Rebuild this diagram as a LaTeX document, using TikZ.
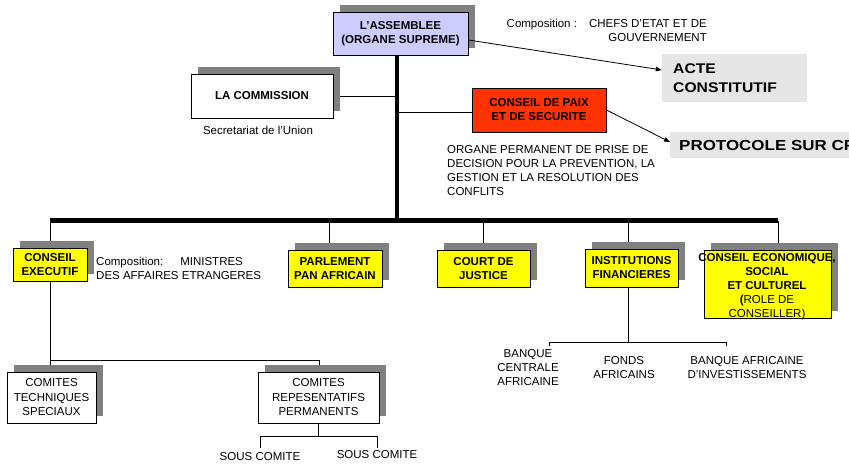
\documentclass[tikz,border=0pt]{standalone}
\usepackage{fontspec}
\setmainfont{Liberation Sans}
\newfontfamily\widefont[FakeStretch=1.12]{Liberation Sans}
\newfontfamily\widerfont[FakeStretch=1.17]{Liberation Sans}
\usetikzlibrary{shadows,arrows.meta}
\definecolor{lav}{HTML}{CCCCFF}
\definecolor{redor}{HTML}{FF3300}
\definecolor{yel}{HTML}{FFFF00}
\definecolor{shadowgray}{HTML}{808080}
\definecolor{lightg}{HTML}{E6E6E6}
\begin{document}
\begin{tikzpicture}[x=1pt,y=-1pt,
  every node/.style={font=\fontsize{11.5}{14}\selectfont, inner sep=0pt},
  box/.style={draw=black, line width=0.8pt, align=center, font=\fontsize{11.5}{14}\selectfont\bfseries},
  shad/.style={general shadow={fill=shadowgray, shadow xshift=7pt, shadow yshift=7pt}},
  ln/.style={line width=0.8pt},
  arr/.style={line width=0.8pt, -{Triangle[length=6pt,width=4.5pt]}},
  lbl/.style={align=center},
  big/.style={font=\widefont\fontsize{14}{19}\selectfont\bfseries, align=left}
]
\useasboundingbox (0,0) rectangle (849,465);
\clip (0,0) rectangle (849,465);

% trunk coordinates
\coordinate (top) at (397,55);
\coordinate (bar) at (397,221);
\coordinate (barL) at (50,221);
\coordinate (barR) at (778,221);

% ---------- connectors (drawn first, under boxes)
\draw[line width=3.8pt] (top) -- (bar);
\draw[line width=5pt] (barL) -- (barR);
\draw[ln] (333,96) -- (397,96);
\draw[ln] (397,112) -- (472,112);
\draw[ln] (50,221) -- (50,248);
\draw[ln] (329,221) -- (329,250);
\draw[ln] (483,221) -- (483,250);
\draw[ln] (628,221) -- (628,342);
\draw[ln] (778,221) -- (778,250);
% conseil executif children
\draw[ln] (50,281) -- (50,360) -- (319,360) -- (319,372);
\draw[ln] (50,360) -- (50,372);
\draw[ln] (318,423) -- (318,436);
\draw[ln] (260,448) -- (260,436) -- (377,436) -- (377,448);
% institutions children
\draw[ln] (549,346) -- (549,342) -- (726,342) -- (726,346);

% ---------- top boxes
\node[box, shad, fill=lav, minimum width=135pt, minimum height=43pt] (asm) at (400.5,33.5) {L’ASSEMBLEE\\(ORGANE SUPREME)};
\node[box, shad, fill=white, minimum width=142pt, minimum height=44pt] (com) at (262,96) {LA COMMISSION};
\node[box, fill=redor, minimum width=134pt, minimum height=44pt] (cps) at (539,110) {CONSEIL DE PAIX\\ET DE SECURITE};

\node[fill=lightg, minimum width=145pt, minimum height=48pt] (acte) at (734.5,78) {};
\node[big, anchor=west] (actet) at (673,78.5) {ACTE\\CONSTITUTIF};
\node[fill=lightg, minimum width=200pt, minimum height=26pt, anchor=west] (prot) at (670,145) {};
\node[font=\widerfont\fontsize{14.5}{19}\selectfont\bfseries, anchor=west] (prott) at (679,145.5) {PROTOCOLE SUR CPS};

\draw[arr] ([yshift=-6.5pt]asm.east) -- ([yshift=8pt]acte.west);
\draw[arr] (cps.east) -- ([yshift=3pt]prot.west);

\node[align=right, anchor=east] (compa) at (707,30.5) {Composition :\hspace{12pt}CHEFS D’ETAT ET DE\\GOUVERNEMENT};
\node (sec) at (258,130) {Secretariat de l’Union};
\node[align=left, anchor=west] (org) at (447,171) {ORGANE PERMANENT DE PRISE DE\\DECISION POUR LA PREVENTION, LA\\GESTION ET LA RESOLUTION DES\\CONFLITS};

% ---------- second row
\node[box, shad, fill=yel, minimum width=74pt, minimum height=33pt] (ce) at (50,264.5) {CONSEIL\\EXECUTIF};
\node[align=left, anchor=west] (compb) at (96,268) {Composition:\hspace{17pt}MINISTRES\\DES AFFAIRES ETRANGERES};
\node[box, shad, fill=yel, minimum width=94pt, minimum height=37pt] (pa) at (335,268.5) {PARLEMENT\\PAN AFRICAIN};
\node[box, shad, fill=yel, minimum width=93pt, minimum height=37pt] (cj) at (483.5,268.5) {COURT DE\\JUSTICE};
\node[box, shad, fill=yel, minimum width=93pt, minimum height=38pt] (inf) at (631.5,268) {INSTITUTIONS\\FINANCIERES};
\node[box, shad, fill=yel, minimum width=127pt, minimum height=68pt] (ces) at (767.5,284) {};
\node[align=center] (cest) at (767,287) {\bfseries CONSEIL ECONOMIQUE,\\\bfseries SOCIAL\\\bfseries ET CULTUREL\\{\bfseries (}ROLE DE\\CONSEILLER)};

% ---------- third row
\node[box, shad, fill=white, minimum width=89pt, minimum height=51pt, font=\fontsize{11.5}{14.5}\selectfont] (ct) at (51.5,397.5) {COMITES\\TECHNIQUES\\SPECIAUX};
\node[box, shad, fill=white, minimum width=121pt, minimum height=51pt, font=\fontsize{11.5}{14.5}\selectfont] (crp) at (318.5,397.5) {COMITES\\REPESENTATIFS\\PERMANENTS};
\node (sc1) at (260,457) {SOUS COMITE};
\node (sc2) at (377,455) {SOUS COMITE};

\node[lbl] (bca) at (528,368) {BANQUE\\CENTRALE\\AFRICAINE};
\node[lbl] (fa) at (624,368) {FONDS\\AFRICAINS};
\node[lbl] (bai) at (747,368) {BANQUE AFRICAINE\\D’INVESTISSEMENTS};
\end{tikzpicture}
\end{document}
